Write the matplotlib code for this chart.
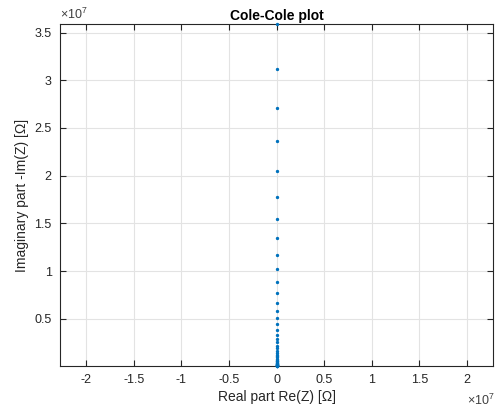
import matplotlib.pyplot as plt
from matplotlib.ticker import FuncFormatter
import numpy as np

plt.rcParams['font.family'] = ['Liberation Sans', 'DejaVu Sans']
plt.rcParams['mathtext.fontset'] = 'custom'
plt.rcParams['mathtext.rm'] = 'Liberation Sans'
plt.rcParams['axes.unicode_minus'] = False

# Impedance values (Ohm)
im_part = np.array([
    3.59, 3.12, 2.71, 2.36, 2.05, 1.78, 1.55, 1.35, 1.17, 1.02,
    0.886, 0.77, 0.67, 0.582, 0.506, 0.44, 0.383, 0.333, 0.289, 0.252,
    0.219, 0.190, 0.165, 0.144, 0.125, 0.109, 0.0946, 0.0822, 0.0715, 0.0622,
    0.054, 0.047, 0.0409, 0.0355, 0.0309, 0.0269, 0.0234, 0.0203, 0.0177, 0.0154,
    0.0134, 0.0116, 0.0101, 0.0088, 0.0077, 0.0067, 0.0058, 0.0050,
]) * 1e7
re_part = np.zeros_like(im_part)

xticks = [-2, -1.5, -1, -0.5, 0, 0.5, 1, 1.5, 2]
yticks = [0.5, 1, 1.5, 2, 2.5, 3, 3.5]

fig = plt.figure(figsize=(4.98, 4.12), dpi=100)
ax = fig.add_axes([0.1205, 0.1117, 0.8695, 0.83])

ax.plot(re_part, im_part, '.', color='#0072BD', markersize=2.8,
        clip_on=False, zorder=5)

ax.set_xlim(-2.275e7, 2.275e7)
ax.set_ylim(im_part.min(), im_part.max())
ax.set_xticks(np.array(xticks) * 1e7)
ax.set_yticks(np.array(yticks) * 1e7)

fmt = FuncFormatter(lambda v, p: '%g' % round(v / 1e7, 3))
ax.xaxis.set_major_formatter(fmt)
ax.yaxis.set_major_formatter(fmt)

# scale labels like matlab's
ax.text(0.0, 1.005, r'$\times\mathregular{10^{7}}$', transform=ax.transAxes,
        fontsize=9, color='#404040', ha='left', va='bottom')
ax.text(1.005, -0.078, r'$\times\mathregular{10^{7}}$', transform=ax.transAxes,
        fontsize=9, color='#404040', ha='right', va='top')

ax.grid(True, color='#e3e3e3', linewidth=0.8)
ax.set_axisbelow(True)
ax.tick_params(direction='in', top=True, right=True, labelsize=9,
               colors='#262626', length=4, width=0.8, pad=6)
for s in ax.spines.values():
    s.set_color('#262626')
    s.set_linewidth(0.8)

ax.set_xlabel('Real part Re(Z) [Ω]', fontsize=10, color='#262626', labelpad=3)
ax.set_ylabel('Imaginary part -Im(Z) [Ω]', fontsize=10, color='#262626')
ax.set_title('Cole-Cole plot', fontsize=10, fontweight='bold', pad=3)

fig.savefig('out.png', dpi=100)
